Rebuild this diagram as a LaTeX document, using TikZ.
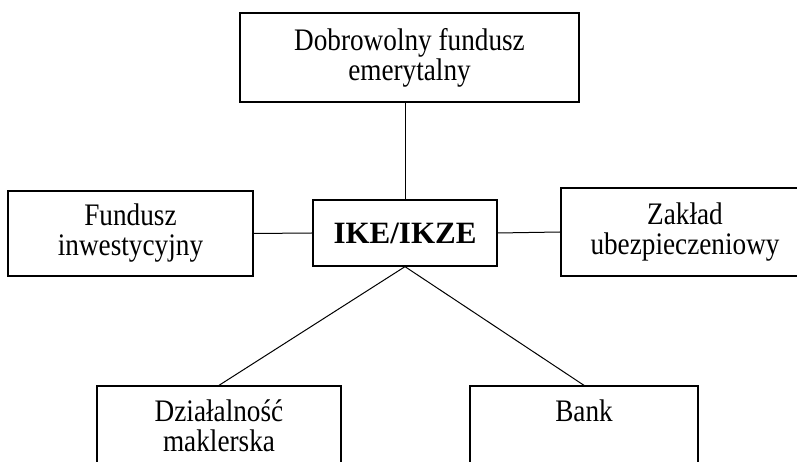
\documentclass[tikz,border=0pt]{standalone}
\usepackage{fontspec}
\setmainfont{Liberation Serif}[FakeStretch=0.87]
\newfontfamily\ikefont{Liberation Serif}
\usepackage{tikz}
\usetikzlibrary{positioning}

\begin{document}
\begin{tikzpicture}[
  x=1pt, y=1pt,
  font=\fontsize{31.3}{30}\selectfont,
  box/.style={draw, line width=1.3pt, align=center, inner sep=0pt},
  link/.style={line width=1pt}
]
\path[use as bounding box, clip] (0,0) rectangle (797,462);

\node[box, minimum width=184, minimum height=66,
      font=\ikefont\fontsize{31}{33}\selectfont\bfseries] (ike) at (405,229) {IKE/IKZE};
\node[box, minimum width=339, minimum height=89] (dfe) at (409.5,404.5) {Dobrowolny fundusz\\emerytalny};
\node[box, minimum width=245, minimum height=85] (fi) at (130.5,228.5) {Fundusz\\inwestycyjny};
\node[box, minimum width=248, minimum height=88] (zu) at (685,230) {Zakład\\ubezpieczeniowy};
\node[box, minimum width=244, minimum height=80] (dm) at (219,36) {Działalność\\maklerska};
\node[box, minimum width=228, minimum height=80] (bank) at (584,36) {Bank\\\mbox{}};

\draw[link] (ike.north) -- (ike.north |- dfe.south);
\draw[link] (fi.east) -- (ike.west);
\draw[link] (ike.east) -- (zu.west);
\draw[link] (ike.south) -- (dm.north);
\draw[link] (ike.south) -- (bank.north);
\end{tikzpicture}
\end{document}
